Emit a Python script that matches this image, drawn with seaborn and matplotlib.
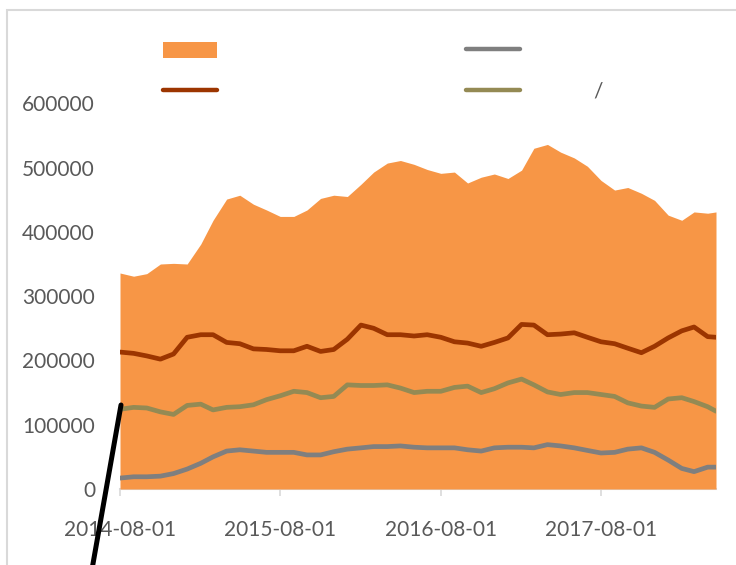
import numpy as np
import pandas as pd
import matplotlib
matplotlib.use("Agg")
import matplotlib.pyplot as plt
import matplotlib.dates as mdates
from matplotlib.patches import Patch, Rectangle
from matplotlib.lines import Line2D
import seaborn as sns

# ================= DATA =================
dates = list(pd.date_range("2014-08-01", "2018-04-01", freq="MS")) + [pd.Timestamp("2018-04-20")]

total = [336, 331, 335, 350, 351, 350, 381, 418, 451, 457, 443, 434,
         424, 424, 434, 452, 457, 455, 474, 493, 507, 511, 505, 497,
         491, 493, 476, 485, 490, 483, 496, 530, 536, 524, 515, 502,
         480, 465, 469, 460, 449, 426, 418, 431, 429, 431]

dark_red = [213, 211, 207, 202, 210, 236, 240, 240, 228, 226, 218, 217,
            215, 215, 222, 214, 217, 233, 255, 250, 240, 240, 238, 240,
            236, 229, 227, 222, 228, 235, 256, 255, 240, 241, 243, 236,
            229, 226, 219, 212, 222, 235, 246, 252, 237, 236]

olive = [124, 127, 126, 120, 116, 130, 132, 123, 127, 128, 131, 139,
         145, 152, 150, 142, 144, 162, 161, 161, 162, 157, 150, 152,
         152, 158, 160, 150, 156, 165, 171, 162, 151, 147, 150, 150,
         147, 144, 134, 129, 127, 140, 142, 136, 128, 121]

gray = [17, 19, 19, 20, 24, 31, 40, 50, 59, 61, 59, 57,
        57, 57, 53, 53, 58, 62, 64, 66, 66, 67, 65, 64,
        64, 64, 61, 59, 64, 65, 65, 64, 69, 67, 64, 60,
        56, 57, 62, 64, 57, 45, 32, 27, 34, 34]

series_names = ["dark_red", "gray", "olive"]
tick_dates = ["2014-08-01", "2015-08-01", "2016-08-01", "2017-08-01"]
y_ticks = [0, 100000, 200000, 300000, 400000, 500000, 600000]

ORANGE = "#F79646"
COLORS = {"dark_red": "#9C3500", "gray": "#7F7F7F", "olive": "#948A54"}
TXT = "#595959"
GRID = "#D9D9D9"

df = pd.DataFrame({"date": dates,
                   "total": np.array(total) * 1000,
                   "dark_red": np.array(dark_red) * 1000,
                   "olive": np.array(olive) * 1000,
                   "gray": np.array(gray) * 1000})
long_df = df.melt(id_vars="date", value_vars=series_names,
                  var_name="series", value_name="value")

# ================= PLOT =================
sns.set_theme(style="white")
plt.rcParams["font.family"] = ["Lato", "DejaVu Sans"]

fig = plt.figure(figsize=(7.36, 5.65), dpi=100)
ax = fig.add_axes([120 / 736, 1 - 489 / 565, 596 / 736, 450 / 565])

ax.fill_between(df["date"], 0, df["total"], color=ORANGE, lw=0, zorder=1)
sns.lineplot(data=long_df, x="date", y="value", hue="series",
             hue_order=series_names, palette=COLORS, lw=3.4,
             legend=False, ax=ax, zorder=3)
for l in ax.lines:
    l.set_solid_capstyle("round")
    l.set_solid_joinstyle("round")

ax.set_xlim(df["date"].iloc[0], df["date"].iloc[-1])
ax.set_ylim(0, 700000)
ax.set_yticks(y_ticks)
ax.set_yticklabels([str(v) for v in y_ticks])
ax.set_xticks(pd.to_datetime(tick_dates))
ax.xaxis.set_major_formatter(mdates.DateFormatter("%Y-%m-%d"))
ax.set_xlabel("")
ax.set_ylabel("")

for s in ["top", "right", "left"]:
    ax.spines[s].set_visible(False)
ax.spines["bottom"].set_color(GRID)
ax.spines["bottom"].set_linewidth(1.5)
ax.spines["bottom"].set_zorder(0.5)

ax.tick_params(axis="x", length=5, width=1.2, color=GRID, direction="out",
               pad=17, labelsize=15, labelcolor=TXT, bottom=True)
ax.tick_params(axis="y", length=0, pad=18, labelsize=15, labelcolor=TXT)
ax.grid(False)

# legend (labels do not render in the source image)
handles = [Patch(facecolor=ORANGE, edgecolor="none"),
           Line2D([], [], color=COLORS["dark_red"], lw=3.2, solid_capstyle="round"),
           Line2D([], [], color=COLORS["gray"], lw=3.2, solid_capstyle="round"),
           Line2D([], [], color=COLORS["olive"], lw=3.2, solid_capstyle="round")]
fig.legend(handles, [" ", " ", " ", " "], ncol=2, loc="upper left",
           bbox_to_anchor=(163 / 736, 1 - 41 / 565), frameon=False,
           fontsize=15, handlelength=2.6, handleheight=0.8,
           handletextpad=0.8, columnspacing=10.9, labelspacing=1.0,
           borderpad=0, borderaxespad=0)
fig.text(598 / 736, 1 - 92 / 565, "/", color=TXT, fontsize=15,
         ha="center", va="center")

# chart border and the stray black stroke
fig.patches.append(Rectangle((7 / 736, -0.1), 1.1, 1 - 10 / 565 + 0.1,
                             transform=fig.transFigure, fill=False,
                             edgecolor=GRID, lw=1.5))
fig.lines.append(Line2D([121 / 736, 91 / 736], [1 - 405 / 565, 1 - 575 / 565],
                        transform=fig.transFigure, color="black", lw=3.6,
                        clip_on=False, zorder=10))

plt.savefig("out.png", dpi=100)
plt.close()
